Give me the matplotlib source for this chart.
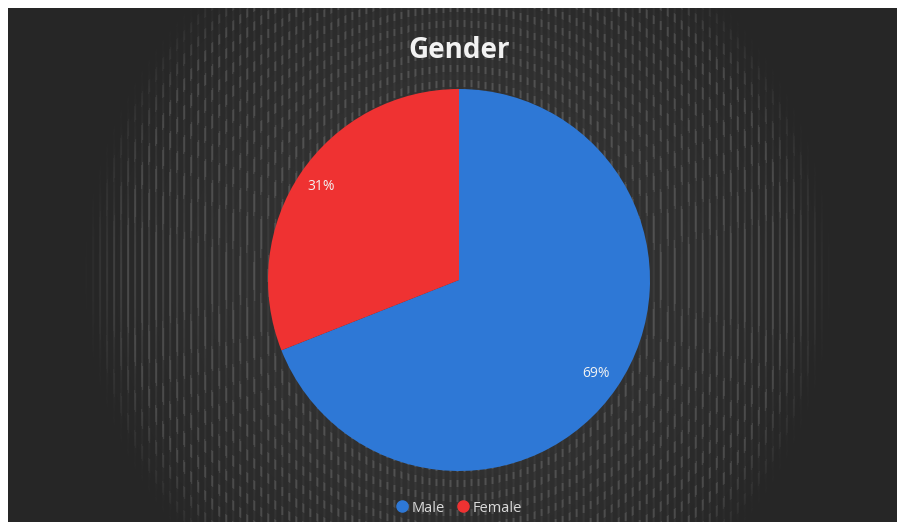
import numpy as np
import matplotlib.pyplot as plt
from matplotlib.lines import Line2D

# Gender split
labels = ["Male", "Female"]
shares = [69, 31]
colors = ["#2e78d6", "#ef3232"]

W, H = 897, 522


def background(w, h):
    """Dark slide background: radial glow with a fine vertical dash texture."""
    yy, xx = np.mgrid[0:h, 0:w].astype(float)
    cx, cy = w * 0.505, h * 0.52
    nx = (xx - cx) / (w * 0.42)
    ny = (yy - cy) / (h * 0.75)
    r = np.sqrt(nx ** 2 + ny ** 2)
    base = 0.15 + 0.08 * np.clip(1 - r, 0, 1)
    # vertical dashes arranged in rings, fading towards the edge of the glow
    stripes = (np.mod(xx, 7.0) < 1.6).astype(float)
    rings = (np.cos(2 * np.pi * r * 26) > 0.1).astype(float)
    fade = np.clip((1.0 - r) / 0.12, 0, 1)
    # longer, brighter dashes along the left and right sides at mid height
    side = np.exp(-((yy - cy) / (h * 0.18)) ** 2) * np.clip(np.abs(nx) - 0.45, 0, 1) * 1.6
    tex = stripes * (0.45 * np.maximum(rings, side) + 0.15) * fade
    img = np.clip(base + 0.22 * tex, 0, 1)
    return np.dstack([img, img, img])


fig = plt.figure(figsize=(W / 100, H / 100), dpi=100, facecolor="white")

# background panel (white margin top and left)
bg = fig.add_axes([8 / W, 0, 1 - 8 / W, 1 - 8 / H])
bg.imshow(background(W - 8, H - 8), aspect="auto", interpolation="bilinear")
bg.axis("off")

# pie axes: centre (459, 280) px, radius 191 px
cx, cy, rad = 459, 280, 191
ax = fig.add_axes([(cx - rad) / W, (H - cy - rad) / H, 2 * rad / W, 2 * rad / H])
ax.set_facecolor("none")
wedges, texts, autotexts = ax.pie(
    shares, colors=colors, startangle=90, counterclock=False,
    autopct="%d%%", pctdistance=0.87, radius=1.0,
    textprops=dict(color="#f2f2f2", fontsize=10, family="Open Sans"),
)
ax.set_xlim(-1, 1)
ax.set_ylim(-1, 1)
ax.set_aspect("equal")
ax.axis("off")

fig.text(cx / W, 1 - 50 / H, "Gender", ha="center", va="center",
         color="#f2f2f2", fontsize=20, fontweight="bold", family="Open Sans")

handles = [Line2D([], [], marker="o", linestyle="none", markersize=8,
                  markerfacecolor=c, markeredgecolor=c) for c in colors]
leg = fig.legend(handles, labels, loc="center", bbox_to_anchor=(cx / W, 1 - 508 / H),
                 ncol=2, frameon=False, handlelength=0.8, handletextpad=0.3,
                 columnspacing=0.8, prop=dict(family="Open Sans", size=10.5))
for t in leg.get_texts():
    t.set_color("#d9d9d9")

fig.savefig("out.png", dpi=100, facecolor="white")
